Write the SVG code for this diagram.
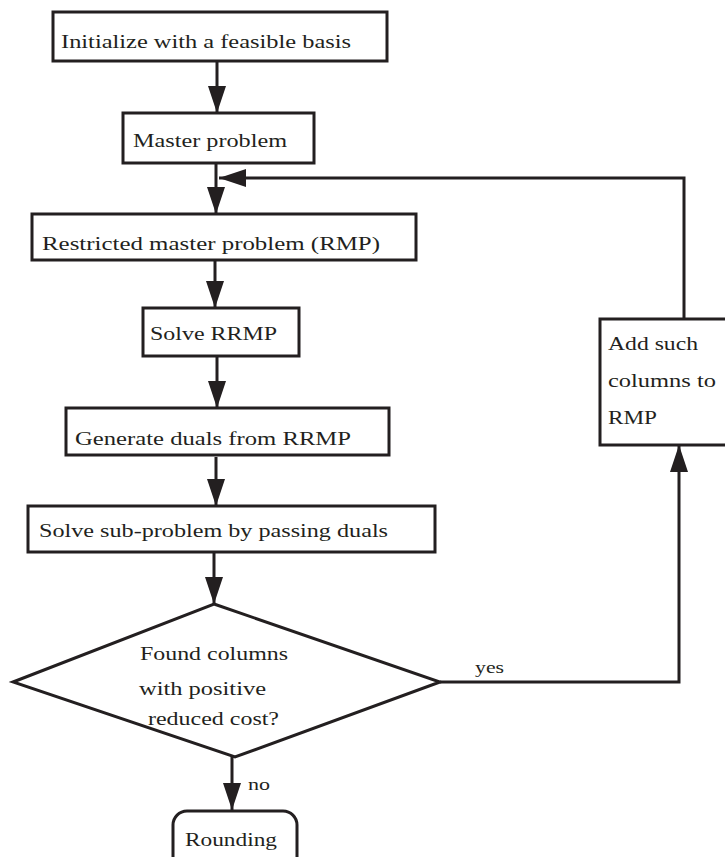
<svg xmlns="http://www.w3.org/2000/svg" width="725" height="857" viewBox="0 0 725 857">
<style>
.box{fill:#fff;stroke:#231f20;stroke-width:3}
.ln{fill:none;stroke:#231f20;stroke-width:3}
.t{font-family:'Liberation Serif','Times New Roman','DejaVu Serif',serif;font-size:18px;fill:#231f20}
.s{font-family:'Liberation Serif','Times New Roman','DejaVu Serif',serif;font-size:16px;fill:#231f20}
</style>
<defs>
<marker id="ah" markerUnits="userSpaceOnUse" markerWidth="27" markerHeight="18" refX="27" refY="9" orient="auto">
<path d="M0,0 L27,9 L0,18 z" fill="#231f20"/>
</marker>
</defs>
<rect width="725" height="857" fill="#fff"/>
<g id="connectors">
<line class="ln" x1="217" y1="61" x2="217" y2="113" marker-end="url(#ah)"/>
<line class="ln" x1="216" y1="163" x2="216" y2="214" marker-end="url(#ah)"/>
<path class="ln" d="M684,319 L684,178 L219,178" marker-end="url(#ah)"/>
<line class="ln" x1="215" y1="260" x2="215" y2="308" marker-end="url(#ah)"/>
<line class="ln" x1="217" y1="356" x2="217" y2="408" marker-end="url(#ah)"/>
<line class="ln" x1="216" y1="457" x2="216" y2="506" marker-end="url(#ah)"/>
<line class="ln" x1="214" y1="552" x2="214" y2="604" marker-end="url(#ah)"/>
<path class="ln" d="M440,682 L679,682 L679,445" marker-end="url(#ah)"/>
<line class="ln" x1="232" y1="757" x2="232" y2="810" marker-end="url(#ah)"/>
<text class="s" x="475" y="673" textLength="29" lengthAdjust="spacingAndGlyphs">yes</text>
<text class="s" x="248" y="790" textLength="22" lengthAdjust="spacingAndGlyphs">no</text>
</g>
<g id="init">
<rect class="box" x="53" y="12" width="334" height="49"/>
<text class="t" x="61" y="48" textLength="290" lengthAdjust="spacingAndGlyphs">Initialize with a feasible basis</text>
</g>
<g id="master">
<rect class="box" x="123" y="113" width="191" height="50"/>
<text class="t" x="133" y="147" textLength="154" lengthAdjust="spacingAndGlyphs">Master problem</text>
</g>
<g id="rmp">
<rect class="box" x="32" y="214" width="384" height="46"/>
<text class="t" x="42" y="250" textLength="338" lengthAdjust="spacingAndGlyphs">Restricted master problem (RMP)</text>
</g>
<g id="solve">
<rect class="box" x="143" y="308" width="156" height="48"/>
<text class="t" x="150" y="340" textLength="127" lengthAdjust="spacingAndGlyphs">Solve RRMP</text>
</g>
<g id="duals">
<rect class="box" x="66" y="408" width="323" height="47"/>
<text class="t" x="75" y="445" textLength="276" lengthAdjust="spacingAndGlyphs">Generate duals from RRMP</text>
</g>
<g id="sub">
<rect class="box" x="28" y="506" width="407" height="46"/>
<text class="t" x="39" y="537" textLength="349" lengthAdjust="spacingAndGlyphs">Solve sub-problem by passing duals</text>
</g>
<g id="decision">
<polygon class="box" points="214,604 440,682 235,757 13,682"/>
<text class="t" x="140" y="660" textLength="148" lengthAdjust="spacingAndGlyphs">Found columns</text>
<text class="t" x="139" y="695" textLength="127" lengthAdjust="spacingAndGlyphs">with positive</text>
<text class="t" x="148" y="725" textLength="131" lengthAdjust="spacingAndGlyphs">reduced cost?</text>
</g>
<g id="add">
<rect class="box" x="600" y="319" width="130" height="126"/>
<text class="t" x="608" y="350" textLength="90" lengthAdjust="spacingAndGlyphs">Add such</text>
<text class="t" x="608" y="387" textLength="108" lengthAdjust="spacingAndGlyphs">columns to</text>
<text class="t" x="608" y="424" textLength="49" lengthAdjust="spacingAndGlyphs">RMP</text>
</g>
<g id="rounding">
<rect class="box" x="173" y="811" width="124" height="60" rx="14"/>
<text class="t" x="185" y="846" textLength="92" lengthAdjust="spacingAndGlyphs">Rounding</text>
</g>
</svg>
